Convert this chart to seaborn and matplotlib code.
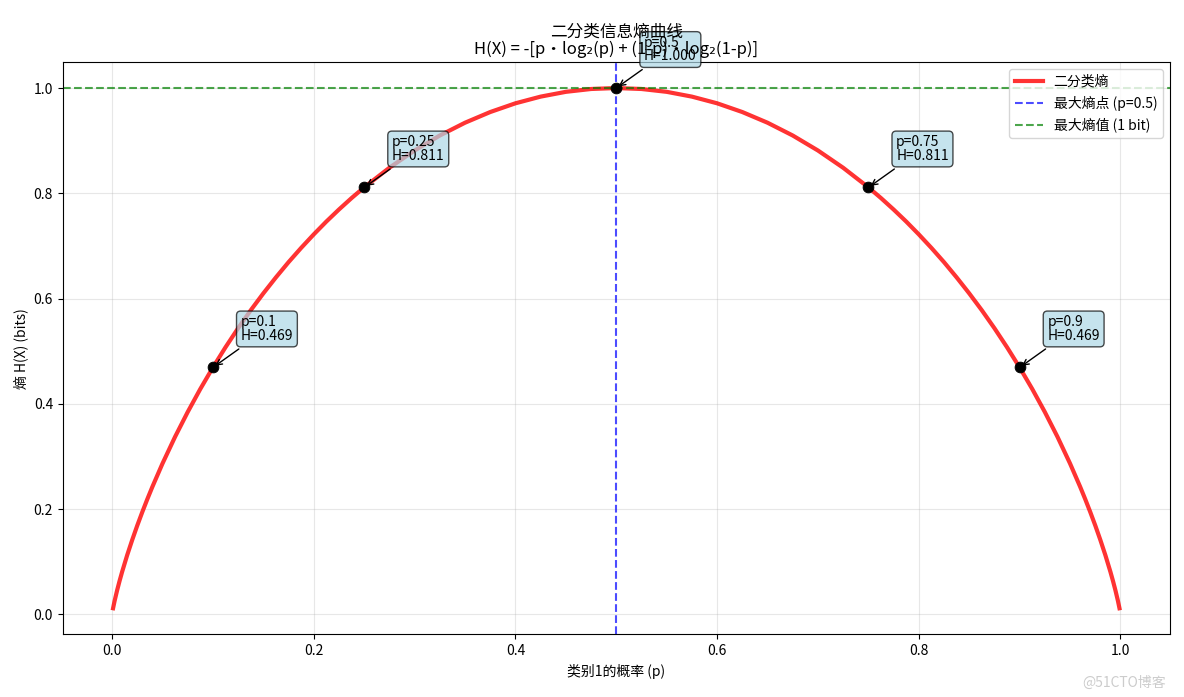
import matplotlib
matplotlib.use('Agg')
import matplotlib.pyplot as plt
import seaborn as sns

# curve values (binary entropy, bits)
p_values = [0.001, 0.0025, 0.005, 0.0075, 0.01, 0.015, 0.02, 0.025, 0.03, 0.035,
            0.04, 0.05, 0.0625, 0.075, 0.0875, 0.1, 0.1125, 0.125, 0.1375, 0.15,
            0.1625, 0.175, 0.1875, 0.2, 0.2125, 0.225, 0.2375, 0.25, 0.275, 0.3,
            0.325, 0.35, 0.375, 0.4, 0.425, 0.45, 0.475,
            0.5,
            0.525, 0.55, 0.575, 0.6, 0.625, 0.65, 0.675, 0.7, 0.725, 0.75,
            0.7625, 0.775, 0.7875, 0.8, 0.8125, 0.825, 0.8375, 0.85, 0.8625, 0.875,
            0.8875, 0.9, 0.9125, 0.925, 0.9375, 0.95, 0.96, 0.965, 0.97, 0.975,
            0.98, 0.985, 0.99, 0.9925, 0.995, 0.9975, 0.999]
h_values = [0.0114, 0.0252, 0.0454, 0.0637, 0.0808, 0.1124, 0.1414, 0.1687, 0.1944, 0.2189,
            0.2423, 0.2864, 0.3373, 0.3843, 0.4281, 0.4690, 0.5074, 0.5436, 0.5777, 0.6098,
            0.6402, 0.6691, 0.6962, 0.7219, 0.7463, 0.7692, 0.7909, 0.8113, 0.8485, 0.8813,
            0.9098, 0.9341, 0.9544, 0.9710, 0.9837, 0.9928, 0.9982,
            1.0000,
            0.9982, 0.9928, 0.9837, 0.9710, 0.9544, 0.9341, 0.9098, 0.8813, 0.8485, 0.8113,
            0.7909, 0.7692, 0.7463, 0.7219, 0.6962, 0.6691, 0.6402, 0.6098, 0.5777, 0.5436,
            0.5074, 0.4690, 0.4281, 0.3843, 0.3373, 0.2864, 0.2423, 0.2189, 0.1944, 0.1687,
            0.1414, 0.1124, 0.0808, 0.0637, 0.0454, 0.0252, 0.0114]

# highlighted points
key_p = [0.1, 0.25, 0.5, 0.75, 0.9]
key_h = [0.469, 0.811, 1.000, 0.811, 0.469]

plt.rcParams['font.family'] = ['Noto Sans CJK SC', 'DejaVu Sans']
plt.rcParams['axes.unicode_minus'] = False

fig, ax = plt.subplots(figsize=(11.84, 6.97), dpi=100)
fig.subplots_adjust(left=0.053, right=0.988, bottom=0.090, top=0.911)

sns.lineplot(x=p_values, y=h_values, ax=ax, color='red', alpha=0.8, linewidth=3,
             label='二分类熵', sort=False)
ax.axvline(0.5, color='blue', linestyle='--', alpha=0.7, linewidth=1.5, label='最大熵点 (p=0.5)')
ax.axhline(1.0, color='green', linestyle='--', alpha=0.7, linewidth=1.5, label='最大熵值 (1 bit)')

sns.scatterplot(x=key_p, y=key_h, ax=ax, color='black', s=60, zorder=5, edgecolor='black')
for p, h in zip(key_p, key_h):
    ax.annotate(f'p={p}\nH={h:.3f}', xy=(p, h), xytext=(20, 20), textcoords='offset points',
                fontsize=10, linespacing=0.95,
                bbox=dict(boxstyle='round,pad=0.3', facecolor='lightblue', alpha=0.7),
                arrowprops=dict(arrowstyle='->', color='black'))

ax.set_xlabel('类别1的概率 (p)')
ax.set_ylabel('熵 H(X) (bits)')
ax.set_title('二分类信息熵曲线\nH(X) = -[p·log₂(p) + (1-p)·log₂(1-p)]', fontsize=12, linespacing=1.0)
ax.grid(True, alpha=0.3)
ax.legend(loc='upper right')

fig.text(0.985, 0.01, '@51CTO博客', ha='right', va='bottom', color='#cccccc', fontsize=10)

plt.savefig('out.png', dpi=100)
